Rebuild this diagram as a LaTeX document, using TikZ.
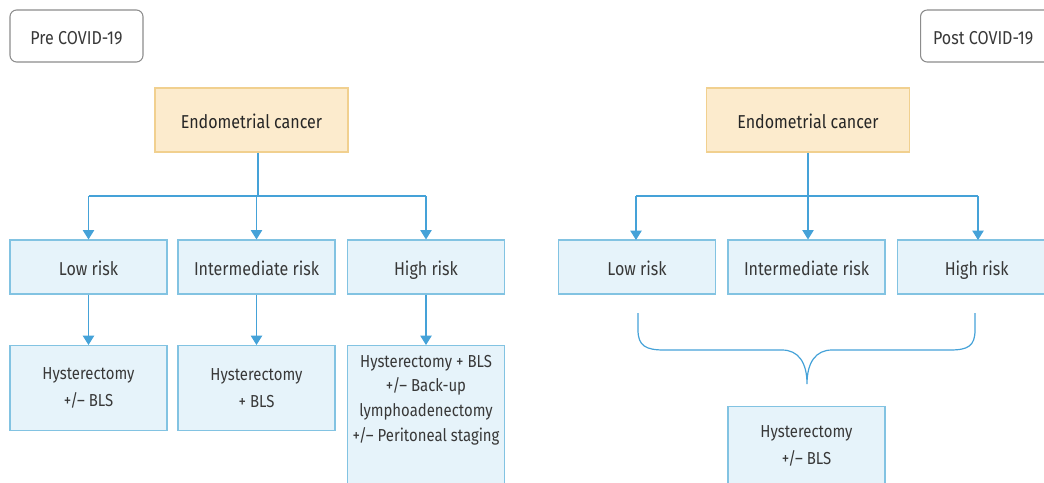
\documentclass[tikz,border=0pt]{standalone}
\usepackage{fontspec}
\setmainfont[FakeStretch=0.86]{Fira Sans}
\usetikzlibrary{arrows.meta}
\definecolor{txtgray}{HTML}{383838}
\definecolor{linkblue}{HTML}{45A2D8}
\definecolor{boxblue}{HTML}{E6F3FA}
\definecolor{edgeblue}{HTML}{82C3E2}
\definecolor{boxorange}{HTML}{FCEBCD}
\definecolor{edgeorange}{HTML}{F1D08F}
\definecolor{tagedge}{HTML}{8C8C8C}
\tikzset{
  every node/.style={text=txtgray, font=\fontsize{14}{18}\selectfont, inner sep=0pt},
  oneline/.style={text height=13pt, text depth=1pt},
  tagbox/.style={oneline, draw=tagedge, line width=0.8pt, rounded corners=5pt, fill=white,
    minimum height=39pt},
  rootbox/.style={oneline, draw=edgeorange, fill=boxorange, line width=0.8pt,
    minimum height=48pt},
  riskbox/.style={oneline, draw=edgeblue, fill=boxblue, line width=0.8pt,
    minimum width=117.75pt, minimum height=40.5pt},
  treatbox/.style={draw=edgeblue, fill=boxblue, line width=0.8pt,
    minimum width=117.75pt},
  treattext/.style={align=center, font=\fontsize{13}{18.4}\selectfont},
  treatpair/.style={align=center, font=\fontsize{13}{20.5}\selectfont},
  link/.style={draw=linkblue, line width=0.8pt},
  linkarrow/.style={link, -{Triangle[width=8.5pt,length=7pt]}},
}
\begin{document}
\begin{tikzpicture}[x=0.75pt,y=-0.75pt]
\useasboundingbox (0,0) rectangle (1044,482);

% ---------- Pre COVID-19 ----------
\node[tagbox, minimum width=99.75pt] (pre) at (76.5,36) {Pre COVID-19};
\node[rootbox, minimum width=144.75pt] (ecA) at (251.5,120) {\color{black!85}Endometrial cancer};

\node[riskbox] (lowA) at (88.5,267) {Low risk};
\node[riskbox] (intA) at (256.5,267) {Intermediate risk};
\node[riskbox] (highA) at (426,267) {High risk};

\coordinate (splitA) at (258,196);
\draw[link] (ecA.south -| splitA) -- (splitA);
\draw[link] (lowA.north |- splitA) -- (highA.north |- splitA);
\draw[linkarrow] (lowA.north |- splitA) -- (lowA.north);
\draw[linkarrow] (intA.north |- splitA) -- (intA.north);
\draw[linkarrow] (highA.north |- splitA) -- (highA.north);

\node[treatbox, treatpair, minimum height=63.75pt, anchor=north] (treatLow) at (88.5,345)
  {Hysterectomy\\+/– BLS};
\node[treatbox, treatpair, minimum height=63.75pt, anchor=north] (treatInt) at (256.5,345)
  {Hysterectomy\\+ BLS};
\node[treatbox, minimum height=120pt, anchor=north] (treatHigh) at (426,345) {};
\node[treattext] (treatHighText) at (426,400)
  {Hysterectomy + BLS\\+/– Back-up\\lymphoadenectomy\\+/– Peritoneal staging};

\draw[linkarrow] (lowA.south) -- (treatLow.north);
\draw[linkarrow] (intA.south) -- (treatInt.north);
\draw[linkarrow] (highA.south) -- (treatHigh.north);

% ---------- Post COVID-19 ----------
\node[tagbox, minimum width=105pt, anchor=west, align=left] (post) at (920,36) {\hspace{9pt}Post COVID-19\hspace{20pt}};
\node[rootbox, minimum width=152pt] (ecB) at (808,120) {\color{black!85}Endometrial cancer};

\node[riskbox] (lowB) at (637,267) {Low risk};
\node[riskbox] (intB) at (806.5,267) {Intermediate risk};
\node[riskbox, anchor=west] (highB) at (897,267) {\hspace{1pt}High risk\hspace{20pt}};

\coordinate (splitB) at (808,196);
\draw[link] (ecB.south -| splitB) -- (splitB);
\draw[link] (636,196) -- (978,196);
\draw[linkarrow] (636,196) -- (636,240);
\draw[linkarrow] (splitB) -- (intB.north -| splitB);
\draw[linkarrow] (978,196) -- (978,240);

% brace gathering the three risk groups
\coordinate (braceL) at (638,313);
\coordinate (braceR) at (975,313);
\coordinate (braceTip) at (807,384);
\draw[link, line width=0.9pt]
  (braceL) -- (638,330) .. controls (638,346) and (646,350) .. (664,350)
  -- (782,350) .. controls (798,350) and (807,362) .. (braceTip)
  .. controls (807,362) and (816,350) .. (832,350)
  -- (950,350) .. controls (968,350) and (975,346) .. (975,330) -- (braceR);

\node[treatbox, minimum height=90pt, anchor=north] (treatAll) at (806.5,406) {};
\node[treatpair] (treatAllText) at (806.5,446) {Hysterectomy\\+/– BLS};
\end{tikzpicture}
\end{document}
